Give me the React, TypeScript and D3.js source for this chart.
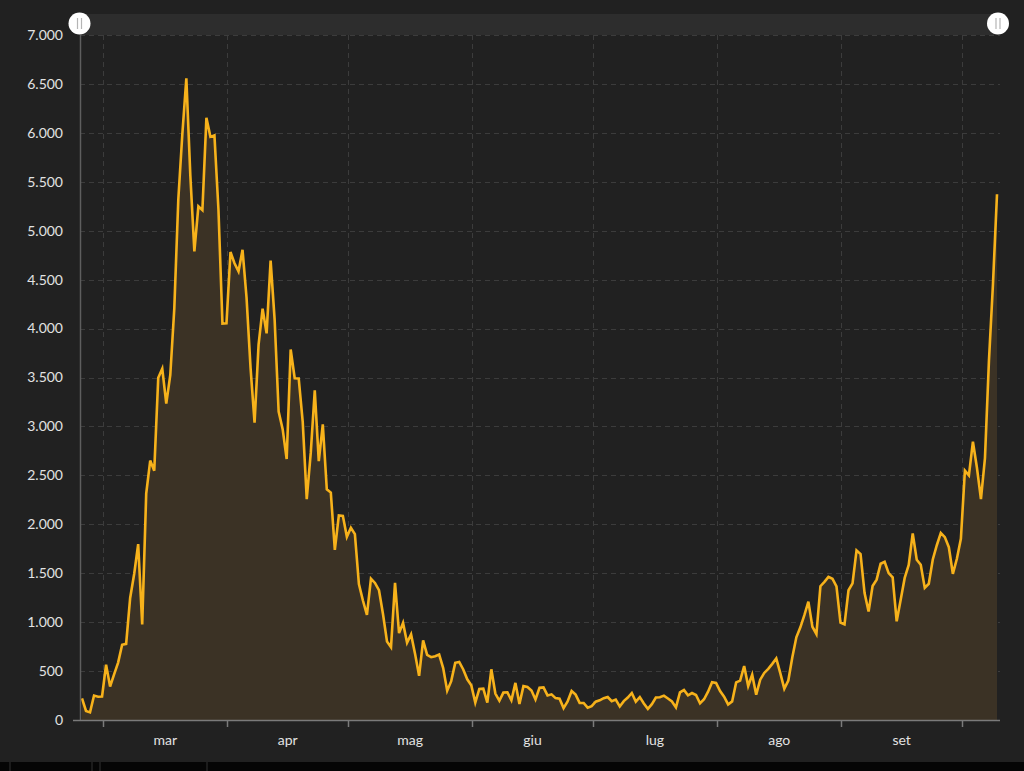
import { useEffect, useRef } from 'react';
import * as d3 from 'd3';

// daily new cases, one value per day starting 24 Feb (18:00 reporting time)
const startDate = '2020-02-24T18:00:00';
const values = [
  221, 93, 78, 250, 238, 240,
  566, 342, 466, 587, 769, 778, 1247, 1492, 1797, 977, 2313, 2651, 2547, 3497, 3590, 3233,
  3526, 4207, 5322, 5986, 6557, 5560, 4789, 5249, 5210, 6153, 5959, 5974, 5217, 4050, 4053,
  4782, 4668, 4585, 4805, 4316, 3599, 3039, 3836, 4204, 3951, 4694, 4092, 3153, 2972, 2667,
  3786, 3493, 3491, 3047, 2256, 2729, 3370, 2646, 3021, 2357, 2324, 1739, 2091, 2086, 1872,
  1965, 1900, 1389, 1221, 1075, 1444, 1401, 1327, 1083, 802, 744, 1402, 888, 992, 789, 875,
  675, 451, 813, 665, 642, 652, 669, 531, 300, 397, 584, 593, 516, 416, 355,
  178, 318, 321, 177, 518, 270, 197, 280, 283, 202, 379, 163, 346, 338, 301, 210, 329, 333,
  251, 262, 224, 218, 122, 190, 296, 259, 175, 174, 126, 142,
  187, 201, 223, 235, 192, 208, 138, 193, 229, 276, 188, 234, 169, 114, 162, 230, 233, 249,
  219, 190, 129, 282, 306, 252, 275, 255, 170, 212, 289, 386, 379,
  295, 239, 159, 190, 384, 402, 552, 347, 463, 259, 412, 481, 523, 574, 629, 479, 320, 403,
  642, 845, 947, 1071, 1210, 953, 878, 1367, 1411, 1462, 1444, 1365, 996,
  978, 1326, 1397, 1733, 1695, 1297, 1108, 1370, 1434, 1597, 1616, 1501, 1458, 1008, 1229,
  1452, 1585, 1907, 1638, 1587, 1350, 1392, 1640, 1786, 1912, 1869, 1766, 1494, 1648, 1851,
  2548, 2499, 2844, 2578, 2257, 2677, 3678, 4458, 5372,
];
const monthTicks = ['2020-03-01', '2020-04-01', '2020-05-01', '2020-06-01', '2020-07-01', '2020-08-01', '2020-09-01', '2020-10-01'];
const monthLabels = ['mar', 'apr', 'mag', 'giu', 'lug', 'ago', 'set'];
const yTicks = [0, 500, 1000, 1500, 2000, 2500, 3000, 3500, 4000, 4500, 5000, 5500, 6000, 6500, 7000];

const W = 1024;
const H = 771;

export default function App() {
  const svgRef = useRef<SVGSVGElement>(null);

  useEffect(() => {
    if (!svgRef.current) return;
    const svg = d3.select(svgRef.current);
    svg.selectAll('*').remove();

    const left = 80, right = 998, top = 35, bottom = 720;
    const t0 = new Date(startDate);
    const data = values.map((v, i) => ({ date: d3.timeDay.offset(t0, i), v }));

    const x = d3.scaleTime()
      .domain([data[0].date, data[data.length - 1].date])
      .range([82, 997]);
    const y = d3.scaleLinear().domain([0, 7000]).range([bottom, top]);
    const fmt = d3.formatLocale({ decimal: ',', thousands: '.', grouping: [3], currency: ['€', ''] }).format(',d');
    const ticks = monthTicks.map(s => new Date(s + 'T00:00:00'));

    svg.append('rect').attr('width', W).attr('height', H).attr('fill', '#212121');

    // slider bar on top
    svg.append('rect').attr('x', left).attr('y', 14).attr('width', right - left).attr('height', top - 14)
      .attr('fill', '#2d2d2d');

    // grid
    const grid = svg.append('g').attr('stroke', '#3c3c3c').attr('stroke-width', 1).attr('stroke-dasharray', '5,4');
    grid.selectAll('line.h').data(yTicks.slice(1)).join('line')
      .attr('x1', left).attr('x2', 1000)
      .attr('y1', d => Math.round(y(d)) + 0.5).attr('y2', d => Math.round(y(d)) + 0.5);
    grid.selectAll('line.v').data(ticks).join('line')
      .attr('x1', d => Math.round(x(d)) + 0.5).attr('x2', d => Math.round(x(d)) + 0.5)
      .attr('y1', top).attr('y2', bottom);

    // area + line
    const area = d3.area<{ date: Date; v: number }>()
      .x(d => x(d.date)).y0(bottom).y1(d => y(d.v));
    svg.append('path').datum(data).attr('d', area).attr('fill', '#3b3225');

    const line = d3.line<{ date: Date; v: number }>().x(d => x(d.date)).y(d => y(d.v));
    svg.append('path').datum(data).attr('d', line)
      .attr('fill', 'none').attr('stroke', '#f7b21b').attr('stroke-width', 2.6)
      .attr('stroke-linejoin', 'miter').attr('stroke-miterlimit', 4);

    // axes
    svg.append('line').attr('x1', left + 0.5).attr('x2', left + 0.5).attr('y1', top).attr('y2', bottom)
      .attr('stroke', '#5e5e5e').attr('stroke-width', 1.5);
    svg.append('line').attr('x1', 73).attr('x2', 1000).attr('y1', bottom + 0.5).attr('y2', bottom + 0.5)
      .attr('stroke', '#7a7a7a').attr('stroke-width', 1.5);
    svg.append('g').selectAll('line').data(ticks).join('line')
      .attr('x1', d => Math.round(x(d)) + 0.5).attr('x2', d => Math.round(x(d)) + 0.5)
      .attr('y1', bottom).attr('y2', bottom + 7)
      .attr('stroke', '#7a7a7a').attr('stroke-width', 1.5);

    svg.append('g').selectAll('text').data(yTicks).join('text')
      .attr('x', 63).attr('y', d => y(d)).attr('dy', '0.35em')
      .attr('text-anchor', 'end').attr('fill', '#e2e2e2')
      .attr('font-family', 'Lato, "Open Sans", sans-serif').attr('font-size', 14)
      .text(d => fmt(d));

    svg.append('g').selectAll('text').data(monthLabels).join('text')
      .attr('x', (_, i) => (x(ticks[i]) + x(ticks[i + 1])) / 2)
      .attr('y', 745)
      .attr('text-anchor', 'middle').attr('fill', '#e2e2e2')
      .attr('font-family', 'Lato, "Open Sans", sans-serif').attr('font-size', 14)
      .text(d => d);

    // slider handles
    [79.5, 998].forEach(cx => {
      const h = svg.append('g');
      h.append('circle').attr('cx', cx).attr('cy', 23.5).attr('r', 11).attr('fill', '#ffffff');
      [-2, 2].forEach(dx => h.append('line')
        .attr('x1', cx + dx).attr('x2', cx + dx).attr('y1', 18).attr('y2', 29)
        .attr('stroke', '#b5b5b5').attr('stroke-width', 1.2));
    });

    // bottom strip
    svg.append('rect').attr('x', 0).attr('y', 762).attr('width', W).attr('height', H - 762).attr('fill', '#050505');
    [10, 92, 100, 207].forEach(px => svg.append('line')
      .attr('x1', px).attr('x2', px).attr('y1', 762).attr('y2', H)
      .attr('stroke', '#333').attr('stroke-width', 1));
  }, []);

  return (
    <div style={{ position: 'fixed', left: 0, top: 0, width: W, height: H }}>
      <svg ref={svgRef} width={W} height={H} style={{ display: 'block' }} />
    </div>
  );
}
